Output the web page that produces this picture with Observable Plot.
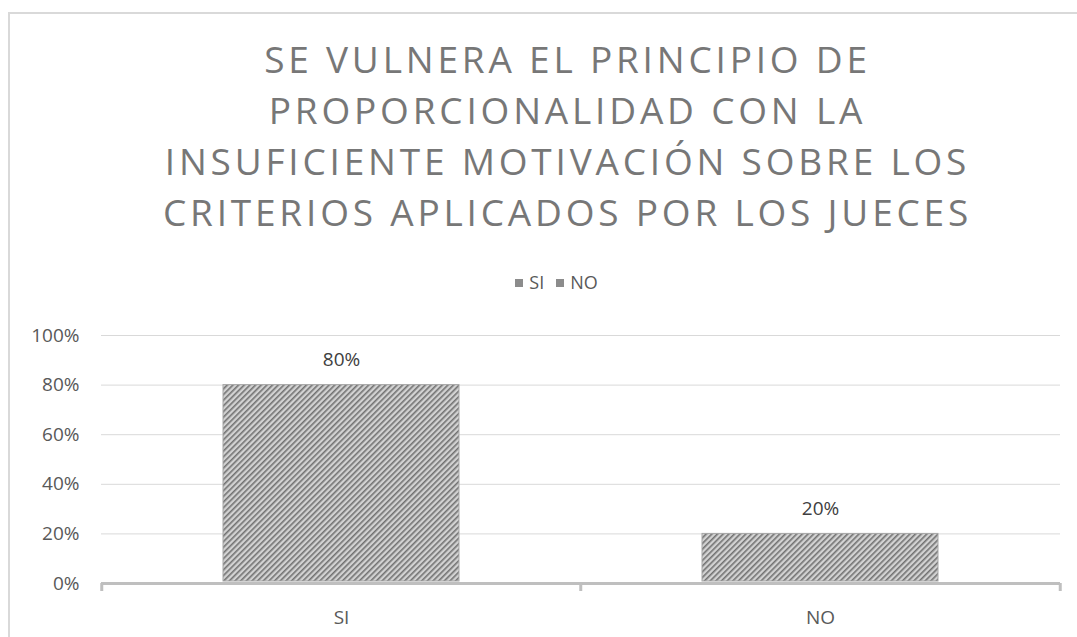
<!DOCTYPE html>
<html><head><meta charset="utf-8">
<script src="https://cdn.jsdelivr.net/npm/d3@7"></script>
<script src="https://cdn.jsdelivr.net/npm/@observablehq/plot@0.6"></script>
<style>
html,body{margin:0;padding:0;background:#fff;overflow:hidden;width:1077px;height:637px;}
#frame{position:absolute;left:8px;top:12px;width:1120px;height:700px;border-left:2px solid #d9d9d9;border-top:2px solid #d9d9d9;}
#title{position:absolute;left:29px;top:33px;width:1077px;text-align:center;font-family:"Open Sans",sans-serif;font-size:37px;line-height:51px;letter-spacing:3.8px;color:#777777;}
#legend{position:absolute;left:18px;top:270px;width:1077px;text-align:center;font-family:"Open Sans",sans-serif;font-size:18px;color:#595959;}
#legend span.sw{display:inline-block;width:8px;height:8px;background:#8c8c8c;margin-right:6px;vertical-align:middle;position:relative;top:-1px;}
#legend span.it{margin:0 6px;}
#chart{position:absolute;left:0;top:300px;}
</style></head>
<body>
<div id="frame"></div>
<div id="title"></div>
<div id="legend"></div>
<div id="chart"></div>
<script>
const titleLines = ["SE VULNERA EL PRINCIPIO DE","PROPORCIONALIDAD CON LA","INSUFICIENTE MOTIVACIÓN SOBRE LOS","CRITERIOS APLICADOS POR LOS JUECES"];
const categories = ["SI","NO"];
const values = [0.80, 0.20];
const labels = ["80%","20%"];
const yTicks = [0,0.2,0.4,0.6,0.8,1.0];

document.getElementById("title").innerHTML = titleLines.map(l=>`<div>${l}</div>`).join("");
document.getElementById("legend").innerHTML = categories.map(c=>`<span class="it"><span class="sw"></span>${c}</span>`).join("");

const data = categories.map((c,i)=>({cat:c, v:values[i], label:labels[i]}));

const W = 1077, H = 337, mL = 101, mR = 17, mT = 35, mB = 54;
const step = (W - mL - mR) / categories.length;

const chart = Plot.plot({
  width: W, height: H,
  marginLeft: mL, marginRight: mR, marginTop: mT, marginBottom: mB,
  style: {fontFamily: "'Open Sans', sans-serif", fontSize: "19px", color: "#595959", background: "transparent"},
  x: {domain: categories, paddingInner: 0.508, paddingOuter: 0.254, label: null, tickSize: 0, tickPadding: 27},
  y: {domain: [0,1], ticks: yTicks, tickFormat: d3.format(".0%"), label: null, tickSize: 0, tickPadding: 22},
  marks: [
    Plot.ruleY(yTicks.filter(t=>t>0), {stroke: "#d9d9d9", strokeWidth: 1}),
    Plot.barY(data, {x: "cat", y: "v", fill: "url(#hatch)", stroke: "#a6a6a6", strokeWidth: 1, insetBottom: 2}),
    Plot.ruleY([0], {stroke: "#bfbfbf", strokeWidth: 3}),
    Plot.ruleX(categories, {x: d=>d, dx: -step/2, y1: 0, y2: 0, stroke: "#bfbfbf", strokeWidth: 3, insetBottom: -8}),
    Plot.ruleX([categories[categories.length-1]], {x: d=>d, dx: step/2, y1: 0, y2: 0, stroke: "#bfbfbf", strokeWidth: 3, insetBottom: -8}),
    Plot.text(data, {x: "cat", y: "v", text: "label", dy: -25, fill: "#404040", fontSize: 19})
  ]
});

const ns = "http://www.w3.org/2000/svg";
const defs = document.createElementNS(ns, "defs");
defs.innerHTML = `<pattern id="hatch" patternUnits="userSpaceOnUse" width="4" height="4" patternTransform="rotate(45)">
  <rect width="4" height="4" fill="#d2d2d2"/>
  <rect width="1.6" height="4" fill="#727272"/>
</pattern>`;
chart.insertBefore(defs, chart.firstChild);
document.getElementById("chart").appendChild(chart);
</script>
</body></html>
